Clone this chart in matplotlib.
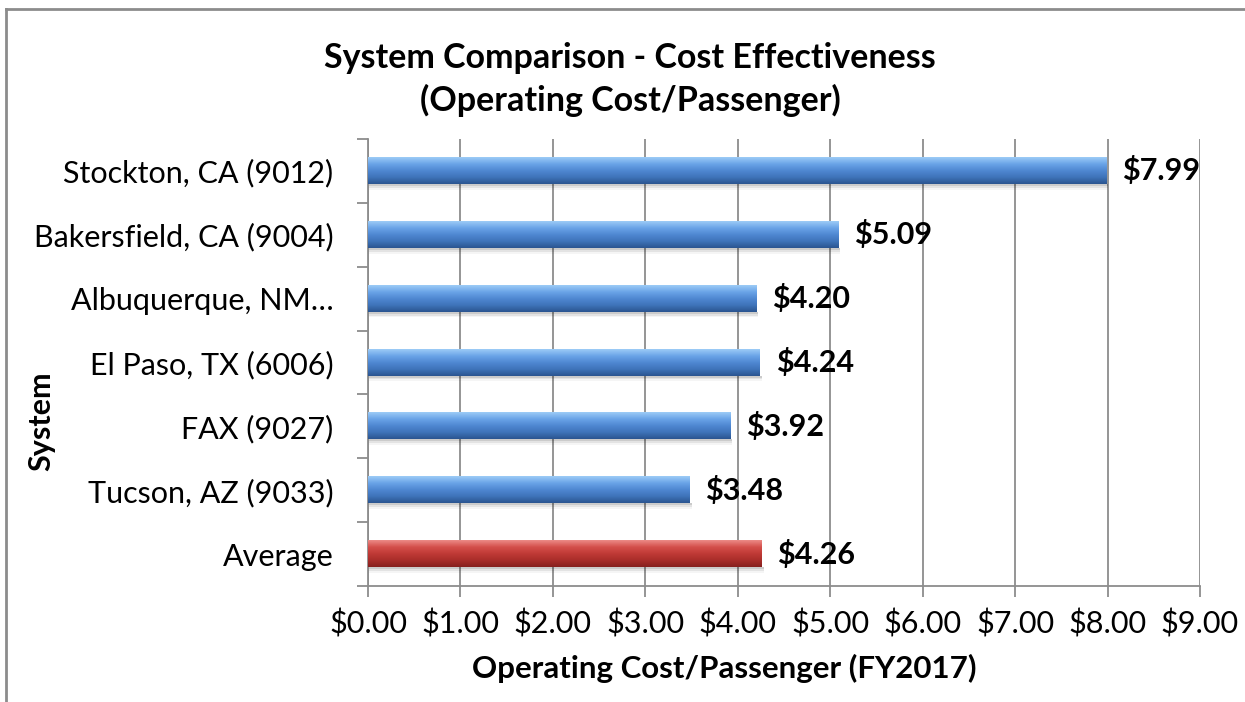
import numpy as np
import matplotlib.pyplot as plt
from matplotlib.colors import LinearSegmentedColormap
from matplotlib.lines import Line2D

systems = ["Stockton, CA (9012)", "Bakersfield, CA (9004)", "Albuquerque, NM\u2026",
           "El Paso, TX (6006)", "FAX (9027)", "Tucson, AZ (9033)", "Average"]
cost = [7.99, 5.09, 4.20, 4.24, 3.92, 3.48, 4.26]
xticks = [0, 1, 2, 3, 4, 5, 6, 7, 8, 9]

plt.rcParams['font.family'] = ['Lato', 'DejaVu Sans']

blue = LinearSegmentedColormap.from_list("blue", ["#9ccbf6", "#6aa4e8", "#4f88d2", "#3f74ba", "#2b5590"])
red = LinearSegmentedColormap.from_list("red", ["#ec8a86", "#d4504c", "#c03a36", "#a92d2a", "#86201e"])

fig = plt.figure(figsize=(12.45, 7.02), dpi=100)
ax = fig.add_axes([368/1245, 1-586/702, 832/1245, 447/702])

h = 0.41
grad = np.linspace(0, 1, 64).reshape(-1, 1)
for i, v in enumerate(cost):
    cmap = red if systems[i] == "Average" else blue
    # soft shadow under the bar
    for k, a in enumerate([0.10, 0.07, 0.04]):
        ax.add_patch(plt.Rectangle((0, i + h/2), v + 0.02, 0.03 * (k + 1), color="#000000",
                                   alpha=a, lw=0, zorder=2))
    ax.imshow(grad, cmap=cmap, aspect="auto", extent=[0, v, i + h/2, i - h/2],
              origin="upper", zorder=3, interpolation="bilinear")
    ax.text(v + 0.17, i, f"${v:.2f}", va="center", ha="left", fontsize=22,
            fontweight="bold", color="black")

ax.set_xlim(0, 9)
ax.set_ylim(6.5, -0.5)
ax.set_xticks(xticks)
ax.set_xticklabels([f"${t:.2f}" for t in xticks], fontsize=22)
ax.set_yticks(range(len(systems)))
ax.set_yticklabels(systems, fontsize=22)
ax.set_yticks(np.arange(-0.5, len(systems)), minor=True)
ax.tick_params(axis="y", which="major", length=0, pad=25)
ax.tick_params(axis="y", which="minor", length=8, width=1.3, color="#8c8c8c", direction="out")
ax.tick_params(axis="x", length=8, width=1.3, color="#8c8c8c", direction="out", pad=9)
ax.grid(axis="x", color="#8c8c8c", lw=1.3, zorder=1)
ax.set_axisbelow(True)
for s in ["top", "right"]:
    ax.spines[s].set_visible(False)
for s in ["left", "bottom"]:
    ax.spines[s].set_color("#8c8c8c")
    ax.spines[s].set_linewidth(1.3)

fig.text(724/1245, 1-668/702, "Operating Cost/Passenger (FY2017)", ha="center", va="center",
         fontsize=22.5, fontweight="bold")
fig.text(41/1245, 1-421/702, "System", ha="center", va="center", rotation=90,
         fontsize=22, fontweight="bold")
fig.text(630/1245, 1-58/702, "System Comparison - Cost Effectiveness", ha="center", va="center",
         fontsize=24.5, fontweight="bold")
fig.text(630/1245, 1-100/702, "(Operating Cost/Passenger)", ha="center", va="center",
         fontsize=24.5, fontweight="bold")

fig.add_artist(Line2D([6/1245, 6/1245], [0, 1-9/702], color="#8c8c8c", lw=2))
fig.add_artist(Line2D([6/1245, 1], [1-9/702, 1-9/702], color="#8c8c8c", lw=2))

fig.savefig("out.png", dpi=100)
